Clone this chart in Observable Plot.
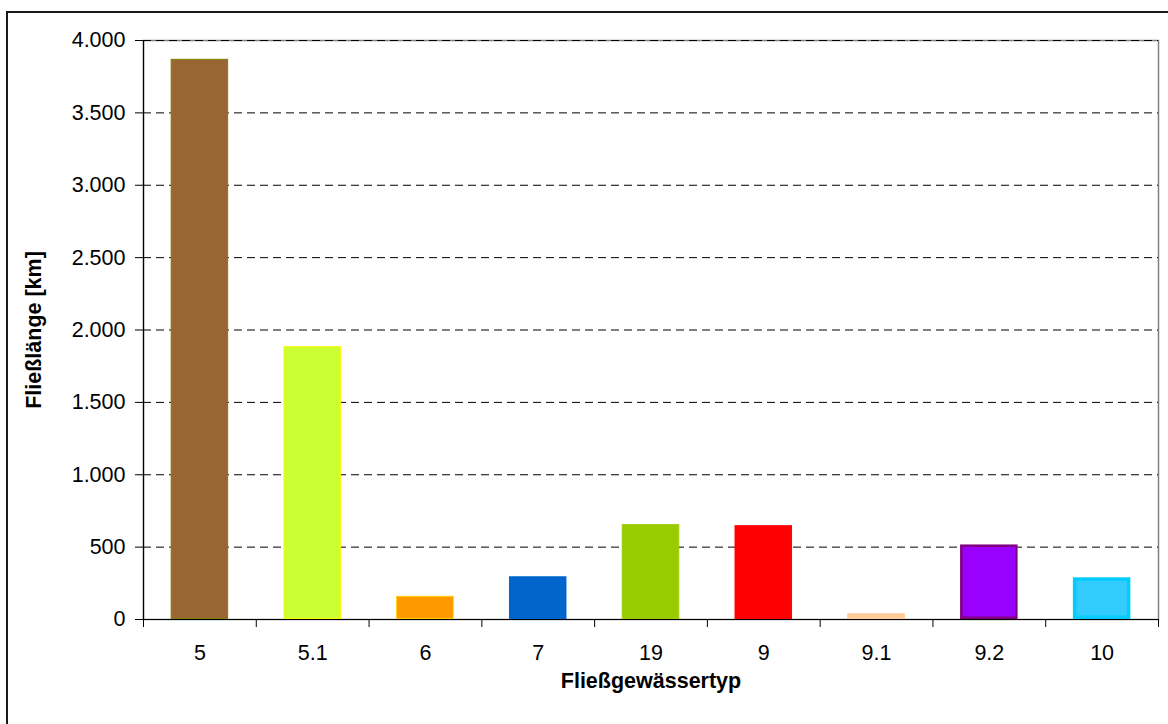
<!DOCTYPE html>
<html><head><meta charset="utf-8">
<script src="https://cdn.jsdelivr.net/npm/d3@7"></script>
<script src="https://cdn.jsdelivr.net/npm/@observablehq/plot@0.6"></script>
<style>
html,body{margin:0;padding:0;background:#fff;}
#wrap{position:relative;width:1168px;height:724px;overflow:hidden;}
#frame{position:absolute;left:6px;top:11px;width:1180px;height:740px;border:2px solid #1a1a1a;box-sizing:border-box;pointer-events:none;}
</style></head><body><div id="wrap"><div id="chart"></div><div id="frame"></div></div>
<script>
const categories = ["5", "5.1", "6", "7", "19", "9", "9.1", "9.2", "10"];
const values = [3870, 1885, 160, 295, 655, 648, 40, 515, 288];
const yTicks = [0, 500, 1000, 1500, 2000, 2500, 3000, 3500, 4000];
const yTitle = "Fließlänge [km]";
const xTitle = "Fließgewässertyp";

const fillColors = ["#996633", "#ccff33", "#ff9900", "#0066cc", "#99cc00", "#ff0000", "#ffcc99", "#9900ff", "#33ccff"];
const strokeColors = ["#808000", "#ffff00", "#ffcc00", "#0066cc", "#99cc00", "#ff0000", "#ffcc99", "#800080", "#00ccff"];
const strokeWidths = [1, 1, 1, 1, 1, 1, 1, 2.5, 3.5];

const rows = categories.map((c, i) => ({cat: c, v: values[i], i}));
const W = 1168, H = 724, ML = 143, MR = 10, MT = 40, MB = 105;
const step = (W - ML - MR) / categories.length;
const fmt = d3.formatLocale({decimal: ",", thousands: ".", grouping: [3], currency: ["", "€"]}).format(",");
const FS = 21.5;

const bars = rows.map(r => Plot.barY([r], {
  x: "cat", y: "v",
  fill: fillColors[r.i], stroke: strokeColors[r.i], strokeWidth: strokeWidths[r.i],
  inset: strokeWidths[r.i] / 2
}));

const chart = Plot.plot({
  width: W, height: H,
  marginLeft: ML, marginRight: MR, marginTop: MT, marginBottom: MB,
  style: {fontFamily: "'Liberation Sans', Arial, sans-serif", fontSize: FS + "px", color: "#000", background: "transparent", overflow: "visible"},
  x: {domain: categories, paddingInner: 0.49, paddingOuter: 0.245, round: false, label: null},
  y: {domain: [0, 4000], label: null},
  marks: [
    Plot.frame({stroke: "#808080", strokeWidth: 1.5}),
    Plot.ruleY(yTicks.filter(t => t > 0), {stroke: "#000", strokeDasharray: "8,5", strokeWidth: 1}),
    ...bars,
    Plot.ruleY([0], {stroke: "#000", strokeWidth: 1.2}),
    Plot.frame({anchor: "left", stroke: "#000", strokeWidth: 1.2}),
    Plot.axisY({ticks: yTicks, tickSize: 8, tickPadding: 10, tickFormat: fmt, label: null, stroke: "#000", fontSize: FS}),
    Plot.axisX({tickSize: 8, tickFormat: () => "", dx: -step / 2, label: null}),
    Plot.axisX([categories[categories.length - 1]], {tickSize: 8, tickFormat: () => "", dx: step / 2, label: null}),
    Plot.axisX({tickSize: 0, tickPadding: 25, label: null, fontSize: FS}),
    Plot.text([yTitle], {frameAnchor: "left", textAnchor: "middle", dx: -109, rotate: -90, fontWeight: "bold", fontSize: FS}),
    Plot.text([xTitle], {frameAnchor: "bottom", dy: 68, fontWeight: "bold", fontSize: FS})
  ]
});
document.getElementById("chart").appendChild(chart);
</script></body></html>
